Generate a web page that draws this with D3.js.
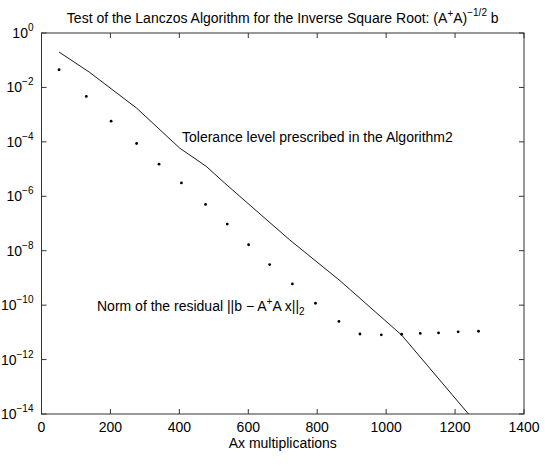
<!DOCTYPE html>
<html><head><meta charset="utf-8">
<script src="https://cdn.jsdelivr.net/npm/d3@7"></script>
<style>body{margin:0;background:#fff}svg{display:block}text{font-family:"Liberation Sans",Arial,sans-serif;fill:#000}</style>
</head><body>
<script>
// Data (log10 values)
const tolX = [51, 139, 276, 401, 478, 531, 719, 866, 1045, 1239];
const tolLog = [-0.70, -1.44, -2.76, -4.23, -4.90, -5.51, -7.59, -9.10, -11.10, -14.0];
const resX = [51, 130, 202, 276, 341, 406, 476, 539, 601, 662, 728, 795, 863, 924, 986, 1045, 1099, 1152, 1209, 1268];
const resLog = [-1.35, -2.33, -3.24, -4.06, -4.82, -5.51, -6.30, -7.02, -7.78, -8.51, -9.22, -9.93, -10.6, -11.06, -11.09, -11.07, -11.04, -11.02, -10.98, -10.96];
const xTicks = [0, 200, 400, 600, 800, 1000, 1200, 1400];
const yTickExp = [0, -2, -4, -6, -8, -10, -12, -14];

const W = 545, H = 467;
const m = {left: 41.5, right: 524, top: 33, bottom: 414};
const svg = d3.select("body").append("svg").attr("width", W).attr("height", H);
const x = d3.scaleLinear().domain([0, 1400]).range([m.left, m.right]);
const y = d3.scaleLog().domain([1e-14, 1]).range([m.bottom, m.top]);
const ax = "#333";
const fs = 14, sfs = 10;

// box
svg.append("rect").attr("x", m.left).attr("y", m.top).attr("width", m.right - m.left).attr("height", m.bottom - m.top)
  .attr("fill", "none").attr("stroke", ax).attr("stroke-width", 1);

const tl = 5;
// x ticks (inside, top and bottom)
xTicks.forEach(t => {
  const px = x(t);
  svg.append("line").attr("x1", px).attr("x2", px).attr("y1", m.bottom).attr("y2", m.bottom - tl).attr("stroke", ax);
  svg.append("line").attr("x1", px).attr("x2", px).attr("y1", m.top).attr("y2", m.top + tl).attr("stroke", ax);
  svg.append("text").attr("x", px).attr("y", m.bottom + 18).attr("text-anchor", "middle").attr("font-size", fs).text(t);
});
// y ticks
yTickExp.forEach(e => {
  const py = y(Math.pow(10, e));
  svg.append("line").attr("x1", m.left).attr("x2", m.left + tl).attr("y1", py).attr("y2", py).attr("stroke", ax);
  svg.append("line").attr("x1", m.right).attr("x2", m.right - tl).attr("y1", py).attr("y2", py).attr("stroke", ax);
  const t = svg.append("text").attr("x", m.left - 8).attr("y", py + 5).attr("text-anchor", "end").attr("font-size", fs);
  t.append("tspan").text("10");
  t.append("tspan").attr("dy", -7).attr("font-size", sfs).text(e === 0 ? "0" : "\u2212" + (-e));
});

// tolerance line
const tol = tolX.map((v, i) => [v, Math.pow(10, tolLog[i])]);
svg.append("path").datum(tol).attr("fill", "none").attr("stroke", "#000").attr("stroke-width", 0.9)
  .attr("d", d3.line().x(d => x(d[0])).y(d => y(d[1])));

// residual dots
svg.selectAll("circle.r").data(resX.map((v, i) => [v, Math.pow(10, resLog[i])])).enter().append("circle")
  .attr("cx", d => x(d[0])).attr("cy", d => y(d[1])).attr("r", 1.4).attr("fill", "#000");

// annotations
svg.append("text").attr("x", 182).attr("y", 142).attr("font-size", fs).text("Tolerance level prescribed in the Algorithm2");
const n = svg.append("text").attr("x", 97).attr("y", 311).attr("font-size", fs);
n.append("tspan").text("Norm of the residual ||b \u2212 A");
n.append("tspan").attr("dy", -6).attr("font-size", sfs).text("+");
n.append("tspan").attr("dy", 6).text("A x||");
n.append("tspan").attr("dy", 4).attr("font-size", sfs).text("2");

// title
const ti = svg.append("text").attr("x", (m.left + m.right) / 2).attr("y", 23).attr("text-anchor", "middle").attr("font-size", fs);
ti.append("tspan").text("Test of the Lanczos Algorithm for the Inverse Square Root: (A");
ti.append("tspan").attr("dy", -6).attr("font-size", sfs).text("+");
ti.append("tspan").attr("dy", 6).text("A)");
ti.append("tspan").attr("dy", -7).attr("font-size", sfs).text("\u22121/2");
ti.append("tspan").attr("dy", 7).text(" b");

// x label
svg.append("text").attr("x", (m.left + m.right) / 2).attr("y", 448).attr("text-anchor", "middle").attr("font-size", fs).text("Ax multiplications");
</script>
</body></html>
